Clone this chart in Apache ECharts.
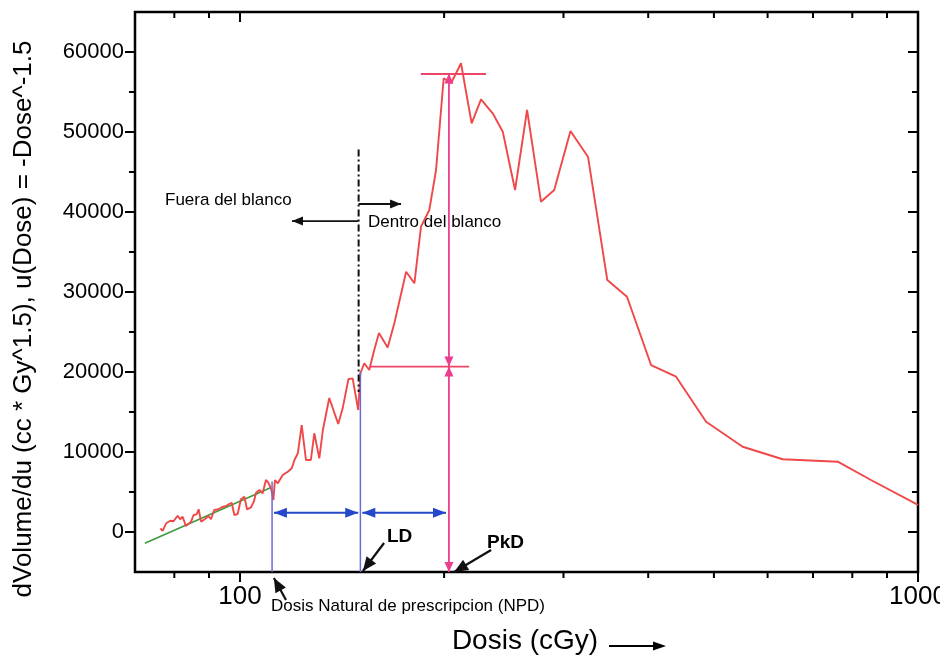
<!DOCTYPE html>
<html>
<head>
<meta charset="utf-8">
<script src="https://cdn.jsdelivr.net/npm/echarts@6/dist/echarts.min.js"></script>
<style>
  html, body { margin: 0; padding: 0; background: #fff; }
  #chart { width: 940px; height: 661px; }
</style>
</head>
<body>
<div id="chart"></div>
<script>
// Differential dose-volume histogram, dV/du against dose (log scale)
const doses = [
  76.3, 76.9, 77.8, 78.9, 79.8, 80.9, 81.6, 82.3, 83.2, 84.7,
  85.4, 86.3, 86.9, 87.6, 88.8, 89.8, 90.6, 91.6, 92.9, 94.0,
  95.4, 96.4, 97.2, 98.1, 99.2, 100.3, 101.5, 102.4, 103.8, 104.8,
  105.6, 106.8, 108.0, 109.2, 110.1, 111.1, 112.0, 112.6, 113.7, 115.6,
  117.6, 119.2, 120.3, 121.7, 123.3, 125.1, 127.2, 128.7, 130.9, 132.5,
  135.4, 139.6, 141.7, 144.5, 146.6, 149.4, 150.5, 152.5, 155.1, 157.5,
  160.3, 165.1, 168.9, 175.8, 180.8, 184.9, 190.2, 194.6, 199.7, 204.8,
  211.8, 219.6, 226.7, 235.9, 244.1, 254.5, 265.1, 277.9, 290.7, 307.2,
  326.1, 348.1, 372.2, 403.9, 439.7, 486.9, 551.3, 631.6, 761.4, 852.3,
  1000
];
const volumes = [
  460, 130, 1090, 1410, 1340, 2040, 1590, 1910, 750, 1290,
  2120, 2210, 2840, 1290, 1620, 2000, 1590, 2750, 2840, 3090,
  3250, 3500, 3660, 2120, 2250, 4090, 4410, 2840, 3090, 3790,
  4910, 5250, 4840, 6500, 6160, 5460, 4000, 6500, 6090, 7120,
  7540, 7960, 9000, 9840, 13370, 9000, 9000, 12340, 9210, 12750,
  16750, 13500, 15460, 19090, 19210, 15250, 19840, 21090, 20250, 22540,
  24870, 23060, 26090, 32540, 31090, 38160, 40250, 45250, 56710, 56090,
  58590, 51090, 54090, 52340, 50040, 42750, 52750, 41290, 42750, 50120,
  46870, 31500, 29410, 20870, 19410, 13790, 10660, 9090, 8790, 6500,
  3380
];

// Straight-line fit through the low-dose tail
const fitDoses = [72.4, 111.1];
const fitVolumes = [-1410, 5560];

// Reference doses (cGy) and levels
const npdDose = 111.5;      // Dosis Natural de prescripcion
const boundaryDose = 149.6; // target boundary
const ldDose = 150.5;       // LD
const pkdDose = 203.3;      // PkD
const peakLevel = 57300;
const halfLevel = 20700;
const spanLevel = 2400;

// Axis ranges and tick values
const X_MIN = 70, X_MAX = 1000;
const Y_MIN = -5000, Y_MAX = 65000;
const xLabelValues = [100, 1000];
const xMajorTicks = [100, 1000];
const xMinorTicks = [80, 90, 200, 300, 400, 500, 600, 700, 800, 900];
const yLabelValues = [0, 10000, 20000, 30000, 40000, 50000, 60000];
const yMajorTicks = [0, 10000, 20000, 30000, 40000, 50000, 60000];
const yMinorTicks = [5000, 15000, 25000, 35000, 45000, 55000];

// Annotation segments in data coordinates
const annotations = [
  { from: [npdDose, Y_MIN], to: [npdDose, 6300], heads: 'none', kind: 'guide' },
  { from: [ldDose, Y_MIN], to: [ldDose, 20000], heads: 'none', kind: 'guide' },
  { from: [boundaryDose, 47800], to: [boundaryDose, 17500], heads: 'none', kind: 'dashdot' },
  { from: [112.2, spanLevel], to: [149.4, spanLevel], heads: 'both', kind: 'span' },
  { from: [151.5, spanLevel], to: [201.3, spanLevel], heads: 'both', kind: 'span' },
  { from: [pkdDose, halfLevel], to: [pkdDose, peakLevel], heads: 'both', kind: 'pkd' },
  { from: [pkdDose, halfLevel], to: [pkdDose, Y_MIN], heads: 'both', kind: 'pkd' },
  { from: [184.8, 57250], to: [230.6, 57250], heads: 'none', kind: 'level' },
  { from: [155.0, 20660], to: [217.8, 20660], heads: 'none', kind: 'level' },
  { from: [149.4, 38870], to: [119.3, 38870], heads: 'end', kind: 'note' },
  { from: [149.6, 41000], to: [172.8, 41000], heads: 'end', kind: 'note' },
  { from: [163.1, -1375], to: [151.8, -4875], heads: 'end', kind: 'pointer' },
  { from: [234.6, -2250], to: [206.9, -5000], heads: 'end', kind: 'pointer' },
  { from: [116.9, -8500], to: [112.2, -5750], heads: 'end', kind: 'pointer' }
];

const annotationStyles = {
  guide:   { color: '#6b6bd6', width: 1.5, headLen: 0, headHalf: 0 },
  dashdot: { color: '#111111', width: 2, dash: [7, 3, 2, 3], headLen: 0, headHalf: 0 },
  span:    { color: '#2448c8', width: 2, headLen: 13, headHalf: 5 },
  pkd:     { color: '#ee3d8f', width: 1.8, headLen: 10, headHalf: 4.5 },
  level:   { color: '#ee4568', width: 1.8, headLen: 0, headHalf: 0 },
  note:    { color: '#111111', width: 1.8, headLen: 11, headHalf: 4.5 },
  pointer: { color: '#111111', width: 2.2, headLen: 14, headHalf: 6 }
};

const FONT = '"Liberation Sans", Arial, Helvetica, sans-serif';

function arrowHead(base, tip, st) {
  const dx = tip[0] - base[0], dy = tip[1] - base[1];
  const len = Math.hypot(dx, dy) || 1;
  const ux = dx / len, uy = dy / len;
  const bx = tip[0] - ux * st.headLen, by = tip[1] - uy * st.headLen;
  return {
    type: 'polygon',
    shape: { points: [
      [tip[0], tip[1]],
      [bx - uy * st.headHalf, by + ux * st.headHalf],
      [bx + uy * st.headHalf, by - ux * st.headHalf]
    ] },
    style: { fill: st.color }
  };
}

function renderAnnotation(params, api) {
  const a = annotations[params.dataIndex];
  const st = annotationStyles[a.kind];
  const p1 = api.coord(a.from);
  const p2 = api.coord(a.to);
  const children = [{
    type: 'line',
    shape: { x1: p1[0], y1: p1[1], x2: p2[0], y2: p2[1] },
    style: { stroke: st.color, lineWidth: st.width, lineDash: st.dash || null }
  }];
  if (a.heads === 'both') children.push(arrowHead(p2, p1, st));
  if (a.heads === 'both' || a.heads === 'end') children.push(arrowHead(p1, p2, st));
  return { type: 'group', children: children };
}

// Tick marks: outside on bottom/left, mirrored inside on top/right
const tickItems = []
  .concat(xMajorTicks.map(v => ({ axis: 'x', value: v, major: true })))
  .concat(xMinorTicks.map(v => ({ axis: 'x', value: v, major: false })))
  .concat(yMajorTicks.map(v => ({ axis: 'y', value: v, major: true })))
  .concat(yMinorTicks.map(v => ({ axis: 'y', value: v, major: false })));

function renderTick(params, api) {
  const t = tickItems[params.dataIndex];
  const len = t.major ? 10 : 6;
  const st = { stroke: '#000', lineWidth: 2 };
  if (t.axis === 'x') {
    const b = api.coord([t.value, Y_MIN]);
    const top = api.coord([t.value, Y_MAX]);
    return { type: 'group', children: [
      { type: 'line', shape: { x1: b[0], y1: b[1], x2: b[0], y2: b[1] + len }, style: st },
      { type: 'line', shape: { x1: top[0], y1: top[1], x2: top[0], y2: top[1] + len }, style: st }
    ] };
  }
  const l = api.coord([X_MIN, t.value]);
  const r = api.coord([X_MAX, t.value]);
  return { type: 'group', children: [
    { type: 'line', shape: { x1: l[0] - len, y1: l[1], x2: l[0], y2: l[1] }, style: st },
    { type: 'line', shape: { x1: r[0] - len, y1: r[1], x2: r[0], y2: r[1] }, style: st }
  ] };
}

const plainNumber = v => String(Math.round(v));

const chart = echarts.init(document.getElementById('chart'), null, { renderer: 'canvas' });

chart.setOption({
  animation: false,
  backgroundColor: '#ffffff',
  grid: {
    left: 135, right: 22, top: 12, bottom: 89,
    containLabel: false, outerBoundsMode: 'none',
    show: true, borderColor: '#000', borderWidth: 2.5, backgroundColor: 'transparent'
  },
  xAxis: {
    type: 'log', logBase: 10, min: X_MIN, max: X_MAX,
    axisLine: { show: false },
    axisTick: { show: false },
    splitLine: { show: false },
    axisLabel: {
      customValues: xLabelValues, formatter: plainNumber,
      color: '#000', fontSize: 26, fontFamily: FONT, margin: 12
    }
  },
  yAxis: {
    type: 'value', min: Y_MIN, max: Y_MAX,
    axisLine: { show: false },
    axisTick: { show: false },
    splitLine: { show: false },
    axisLabel: {
      customValues: yLabelValues, formatter: plainNumber,
      color: '#000', fontSize: 22, fontFamily: FONT, margin: 11
    }
  },
  series: [
    {
      name: 'fit', type: 'line', showSymbol: false, silent: true,
      data: fitDoses.map((d, i) => [d, fitVolumes[i]]),
      lineStyle: { color: '#3f9a3f', width: 1.6 }, z: 2
    },
    {
      name: 'dV/du', type: 'line', showSymbol: false, silent: true,
      data: doses.map((d, i) => [d, volumes[i]]),
      lineStyle: { color: '#f04848', width: 1.9 }, z: 3
    },
    {
      name: 'annotations', type: 'custom', silent: true, clip: false,
      data: annotations.map(a => [a.from[0], a.from[1], a.to[0], a.to[1]]),
      encode: { x: [0, 2], y: [1, 3] },
      renderItem: renderAnnotation, z: 4
    },
    {
      name: 'ticks', type: 'custom', silent: true, clip: false,
      data: tickItems.map(t => t.axis === 'x' ? [t.value, Y_MIN] : [X_MIN, t.value]),
      renderItem: renderTick, z: 5
    }
  ],
  graphic: [
    {
      type: 'text', x: 24, y: 319, rotation: Math.PI / 2,
      style: {
        text: 'dVolume/du (cc * Gy^1.5), u(Dose) = -Dose^-1.5',
        font: '26px ' + FONT, fill: '#000', align: 'center', verticalAlign: 'middle'
      }
    },
    {
      type: 'text', x: 525, y: 641,
      style: { text: 'Dosis (cGy)', font: '28px ' + FONT, fill: '#000', align: 'center', verticalAlign: 'middle' }
    },
    {
      type: 'line', shape: { x1: 609, y1: 646, x2: 656, y2: 646 },
      style: { stroke: '#000', lineWidth: 1.8 }
    },
    {
      type: 'polygon', shape: { points: [[666, 646], [653, 641.5], [653, 650.5]] },
      style: { fill: '#000' }
    },
    {
      type: 'text', x: 165, y: 200,
      style: { text: 'Fuera del blanco', font: '17px ' + FONT, fill: '#000', align: 'left', verticalAlign: 'middle' }
    },
    {
      type: 'text', x: 368, y: 222,
      style: { text: 'Dentro del blanco', font: '17px ' + FONT, fill: '#000', align: 'left', verticalAlign: 'middle' }
    },
    {
      type: 'text', x: 271, y: 606,
      style: { text: 'Dosis Natural de prescripcion (NPD)', font: '17px ' + FONT, fill: '#000', align: 'left', verticalAlign: 'middle' }
    },
    {
      type: 'text', x: 387, y: 537,
      style: { text: 'LD', font: 'bold 19px ' + FONT, fill: '#000', align: 'left', verticalAlign: 'middle' }
    },
    {
      type: 'text', x: 487, y: 543,
      style: { text: 'PkD', font: 'bold 19px ' + FONT, fill: '#000', align: 'left', verticalAlign: 'middle' }
    }
  ]
});
</script>
</body>
</html>
